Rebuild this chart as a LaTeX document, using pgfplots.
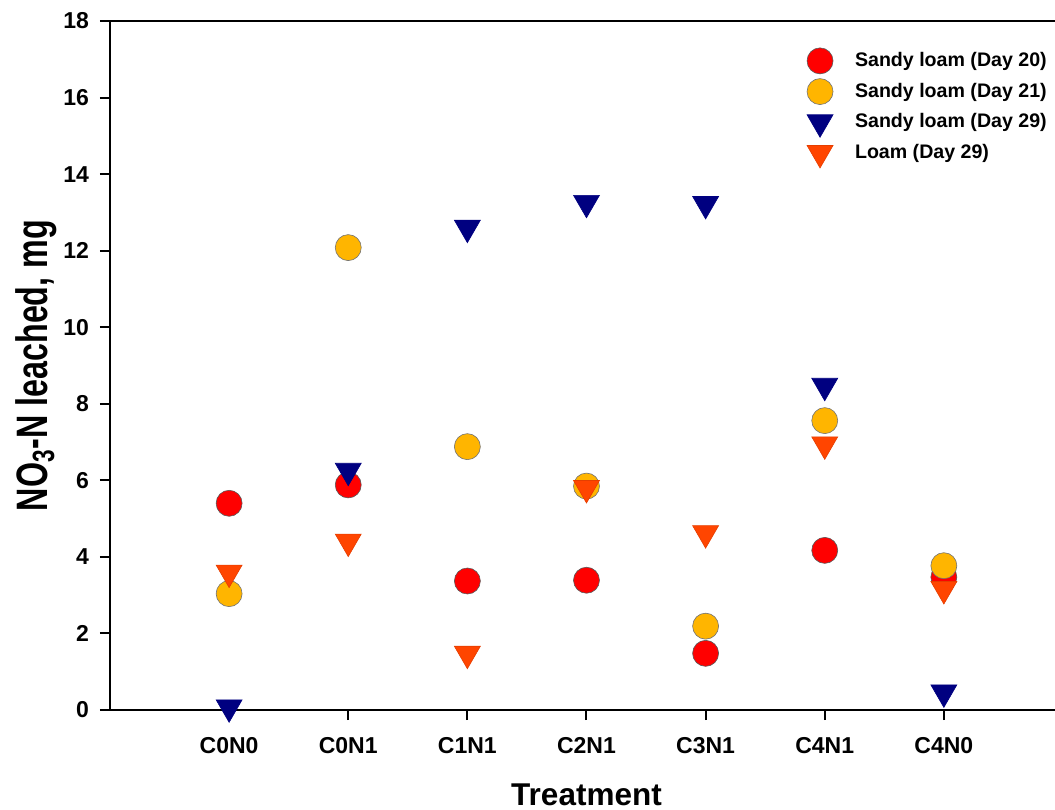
\documentclass[border=0pt]{standalone}
\usepackage{fontspec}
\setmainfont{Liberation Sans}
\usepackage{graphicx}
\usepackage{pgfplots}
\pgfplotsset{compat=1.18}
\definecolor{cred}{RGB}{255,0,0}
\definecolor{cgold}{RGB}{255,181,0}
\definecolor{cnavy}{RGB}{0,0,128}
\definecolor{corange}{RGB}{255,69,0}
\pgfplotsset{
  ptlegend/.style={legend image code/.code={%
    \path[draw=none,fill=none] (-7pt,-7.5pt) rectangle (16.5pt,7.5pt);
    \draw[##1] plot coordinates {(0pt,0pt)};}},
}
\begin{document}
\begin{tikzpicture}
\begin{axis}[
  scale only axis,
  width=476.5pt, height=344.5pt,
  xmin=-1, xmax=7, ymin=0, ymax=18,
  xtick={0,...,6},
  xticklabels={C0N0,C0N1,C1N1,C2N1,C3N1,C4N1,C4N0},
  ytick={0,2,...,18},
  xtick pos=bottom, ytick pos=left,
  tick align=outside,
  major tick length=5pt,
  axis line style={line width=1pt},
  every tick/.style={black, line width=1pt},
  ticklabel style={font=\fontsize{11.5}{13}\selectfont\bfseries},
  xticklabel style={yshift=-5pt},
  yticklabel style={xshift=-2pt},
  /pgf/number format/assume math mode=true,
  clip=false,
  xlabel={Treatment},
  ylabel={\scalebox{0.733}[1]{NO\textsubscript{3}-N leached, mg}},
  every axis x label/.style={at={(axis description cs:0.5,-0.1379)}, anchor=base, font=\fontsize{15.75}{18}\selectfont\bfseries},
  every axis y label/.style={at={(axis description cs:-0.0661,0.5)}, rotate=90, anchor=base, font=\fontsize{22}{24}\selectfont\bfseries},
  ptlegend,
  legend style={at={(axis cs:4.843,17.35)}, anchor=north west, draw=none, fill=none,
    inner sep=0pt, outer sep=0pt, row sep=0.35pt,
    font=\fontsize{9.8}{11}\selectfont\bfseries,
    nodes={inner sep=1pt}},
  legend cell align=left,
]
\addplot[only marks, mark=*, mark size=6.5pt, mark options={fill=cred, draw=black!65, line width=0.3pt}]
  coordinates {(0,5.40) (1,5.88) (2,3.37) (3,3.39) (4,1.48) (5,4.17) (6,3.47)};
\addlegendentry{Sandy loam (Day 20)}
\addplot[only marks, mark=*, mark size=6.5pt, mark options={fill=cgold, draw=black!55, line width=0.3pt}]
  coordinates {(0,3.04) (1,12.08) (2,6.88) (3,5.85) (4,2.19) (5,7.56) (6,3.77)};
\addlegendentry{Sandy loam (Day 21)}
\addplot[only marks, mark=triangle*, mark size=7.5pt, mark options={rotate=180, fill=cnavy, draw=cnavy, line width=0.3pt}]
  coordinates {(0,0.07) (1,6.25) (2,12.6) (3,13.25) (4,13.22) (5,8.47) (6,0.46)};
\addlegendentry{Sandy loam (Day 29)}
\addplot[only marks, mark=triangle*, mark size=7.5pt, mark options={rotate=180, fill=corange, draw=corange!90!black, line width=0.3pt}]
  coordinates {(0,3.59) (1,4.40) (2,1.47) (3,5.80) (4,4.62) (5,6.94) (6,3.16)};
\addlegendentry{Loam (Day 29)}
\end{axis}
\pgfresetboundingbox
\path[use as bounding box] ([xshift=-55pt,yshift=-49.5pt]current axis.south west) rectangle ([xshift=472.5pt,yshift=355pt]current axis.south west);
\end{tikzpicture}
\end{document}
